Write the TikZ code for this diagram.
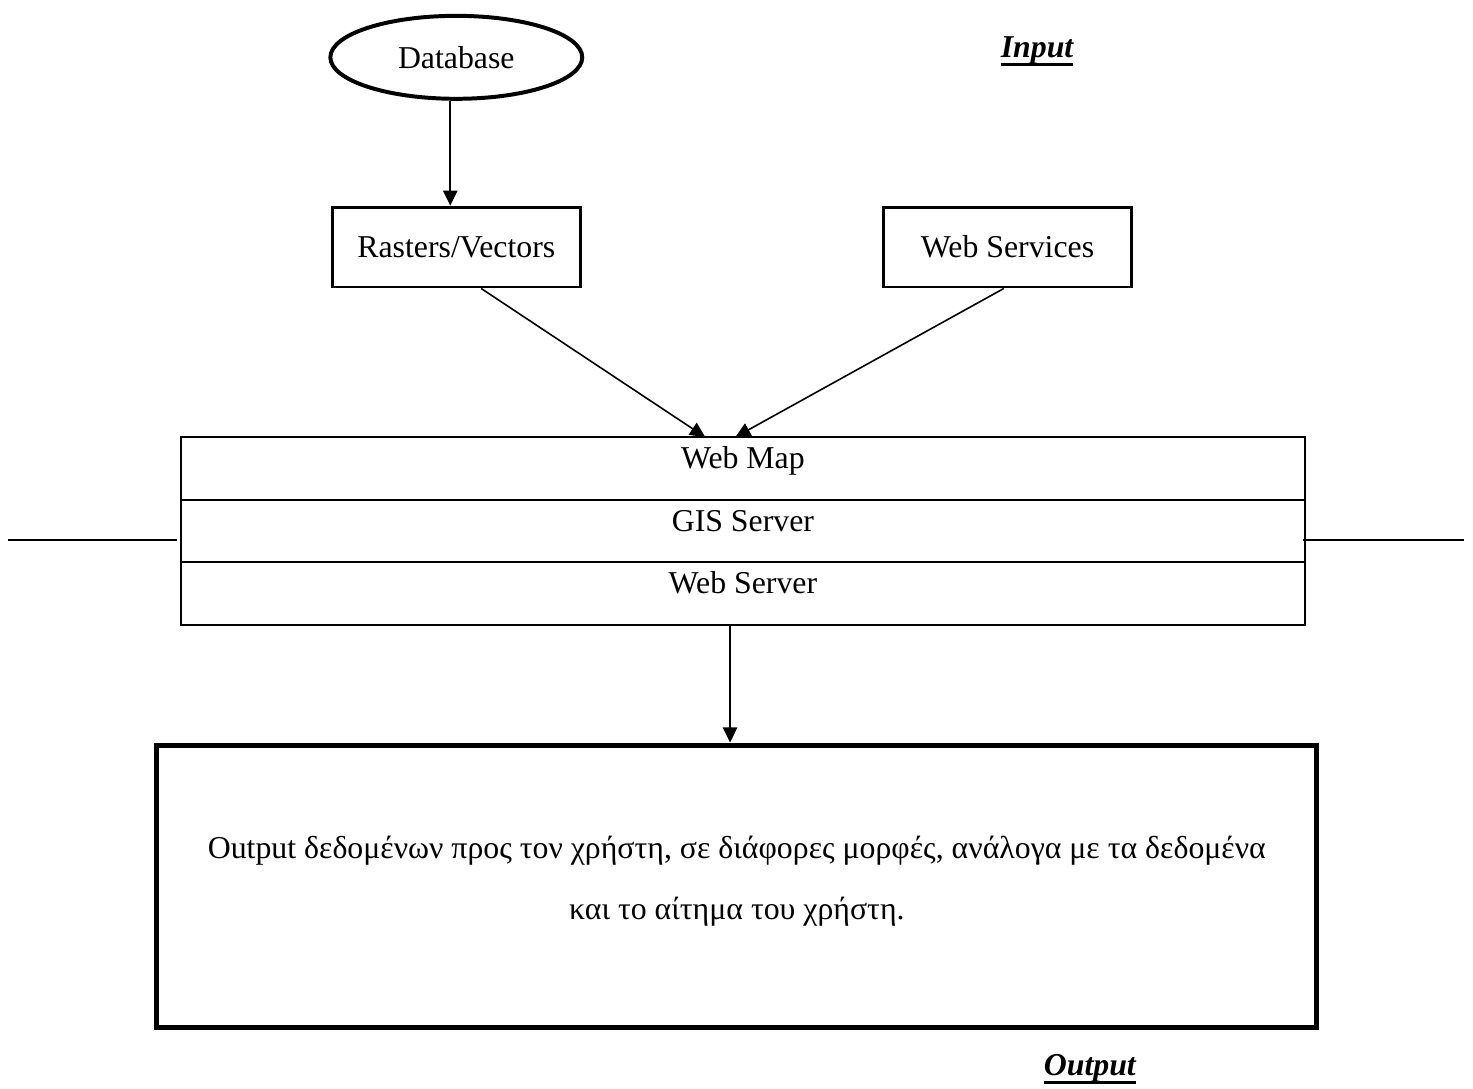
\documentclass[tikz,border=0pt]{standalone}
\usepackage{fontspec}
\setmainfont{Liberation Serif}
\usepackage{tikz}
\usetikzlibrary{positioning,arrows.meta,shapes.geometric,calc}
\newcommand{\diagfont}{\fontsize{12pt}{14.4pt}\selectfont}
\newcommand{\thickunder}[1]{\setbox0\hbox{#1}\leavevmode\rlap{\rule[-3.2pt]{\wd0}{1.1pt}}\box0}
\tikzset{
  dbnode/.style={ellipse, draw, line width=1.5pt, minimum width=3.34cm,
                 minimum height=1.10cm, font=\diagfont},
  srcbox/.style={rectangle, draw, line width=1.1pt, minimum width=3.29cm,
                 minimum height=1.06cm, font=\diagfont},
  layerbox/.style={rectangle, draw, line width=0.75pt, minimum width=14.90cm,
                   minimum height=0.83cm, outer sep=0pt, inner ysep=0pt,
                   text height=0.3cm, text depth=0.29cm, font=\diagfont},
  outbox/.style={rectangle, draw, line width=1.9pt, minimum width=15.38cm,
                 minimum height=3.74cm},
  outtext/.style={align=center, font=\fontsize{12pt}{23pt}\selectfont},
  tag/.style={font=\diagfont\bfseries\itshape},
  link/.style={-{Triangle[length=2mm, width=1.9mm]}, line width=0.6pt},
  side/.style={line width=0.75pt}
}
\begin{document}
\begin{tikzpicture}[node distance=0pt]
\useasboundingbox (0,0) rectangle (19.53,-14.43);
% input side
\node[dbnode] (db) at (6.05,-0.76) {Database};
\node[srcbox, below=1.39cm of db] (raster) {Rasters/Vectors};
\node[srcbox, right=3.98cm of raster] (websvc) {Web Services};
\node[tag] (intag) at (13.75,-0.68) {\thickunder{Input}};
% server stack
\node[layerbox] (webmap) at (9.85,-6.21) {Web Map};
\node[layerbox, below=of webmap] (gis) {GIS Server};
\node[layerbox, below=of gis] (websrv) {Web Server};
\coordinate (lend) at (0.11,-7.16);
\coordinate (rend) at (19.41,-7.16);
\draw[side] (lend) -- ([xshift=-0.05cm]lend -| gis.west);
\draw[side] ([xshift=-0.03cm]rend -| gis.east) -- (rend);
% output
\node[outbox, below=1.56cm of websrv, xshift=-0.08cm] (outbox) {};
\node[outtext] (outmsg) at ([yshift=0.06cm]outbox.center)
  {Output δεδομένων προς τον χρήστη, σε διάφορες μορφές, ανάλογα με τα δεδομένα\\
   και το αίτημα του χρήστη.};
\node[tag] (outtag) at (14.45,-14.17) {\thickunder{Output}};
% connectors
\draw[link] ([xshift=-0.08cm]db.south) -- ([xshift=-0.08cm]db.south |- raster.north);
\draw[link] ([xshift=0.33cm]raster.south) -- ([xshift=-0.5cm]webmap.north);
\draw[link] ([xshift=-0.05cm]websvc.south) -- ([xshift=-0.1cm]webmap.north);
\draw[link] ([xshift=-0.17cm]websrv.south) -- ([xshift=-0.17cm]websrv.south |- outbox.north);
\end{tikzpicture}
\end{document}
